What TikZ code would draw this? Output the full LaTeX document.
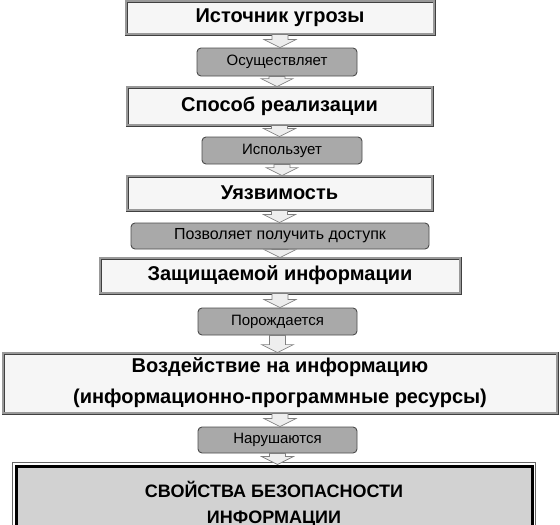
\documentclass[tikz,border=0pt]{standalone}
\usepackage{fontspec}
\setmainfont{Liberation Sans}
\usetikzlibrary{calc}
\definecolor{bigfill}{HTML}{F6F6F6}
\definecolor{smallfill}{HTML}{A9A9A9}
\definecolor{lastfill}{HTML}{D2D2D2}
\definecolor{arrfill}{HTML}{EEEEEE}
\tikzset{
  bigbox/.style={draw=black!75, double=black!40, double distance=1.4pt, line width=0.8pt,
    fill=bigfill, inner sep=0pt, align=center, font=\fontsize{20}{31}\selectfont\bfseries},
  smallbox/.style={draw=black!70, line width=0.9pt, rounded corners=4pt, fill=smallfill,
    inner sep=0pt, font=\fontsize{15}{16}\selectfont},
  lastbox/.style={draw=black, line width=3pt, fill=lastfill, inner sep=0pt, align=center,
    font=\fontsize{18}{26}\selectfont\bfseries},
  blk/.style={draw=black!50, line width=0.7pt, fill=arrfill, to path={
    let \p1=(\tikztostart), \p2=(\tikztotarget) in
    (\x1-8pt,\y1) -- (\x1+8pt,\y1) -- (\x1+8pt,\y2+8pt) -- (\x1+16pt,\y2+8pt)
    -- (\x1,\y2) -- (\x1-16pt,\y2+8pt) -- (\x1-8pt,\y2+8pt) -- cycle}}
}
\begin{document}
\begin{tikzpicture}[x=1pt,y=-1pt]
\useasboundingbox (0,0) rectangle (560,525);
\clip (0,0) rectangle (560,525);
\node[bigbox, minimum width=308pt, minimum height=33pt] (b1) at (280,17.5) {Источник угрозы};
\node[smallbox, minimum width=160pt, minimum height=28pt] (s1) at (277,62) {Осуществляет};
\node[bigbox, minimum width=305pt, minimum height=38pt] (b2) at (279.5,106) {Способ реализации};
\node[smallbox, minimum width=160pt, minimum height=27pt] (s2) at (282,150.5) {Использует};
\node[bigbox, minimum width=305pt, minimum height=34pt] (b3) at (279.5,193) {Уязвимость};
\node[smallbox, minimum width=298pt, minimum height=26pt, font=\fontsize{16}{16}\selectfont] (s3) at (280,236) {Позволяет получить доступк};
\node[bigbox, minimum width=360pt, minimum height=35pt] (b4) at (280,275.5) {Защищаемой информации};
\node[smallbox, minimum width=159pt, minimum height=27pt] (s4) at (277.5,321.5) {Порождается};
\node[bigbox, minimum width=554pt, minimum height=60pt] (b5) at (280,383) {Воздействие на информацию\\(информационно-программные ресурсы)};
\node[smallbox, minimum width=159pt, minimum height=26pt] (s5) at (277.5,440) {Нарушаются};
\node[lastbox, minimum width=516pt, minimum height=76pt] (b6) at (274,504) {СВОЙСТВА БЕЗОПАСНОСТИ\\ИНФОРМАЦИИ};
\draw[black!60, line width=0.6pt] ($(b6.north west)+(-2pt,2pt)$) rectangle ($(b6.south east)+(2pt,-2pt)$);
\draw[blk] (b1.south) to (s1.north);
\draw[blk] (s1.south) to (b2.north);
\draw[blk] (b2.south) to (s2.north);
\draw[blk] (s2.south) to (b3.north);
\draw[blk] (b3.south) to (s3.north);
\draw[blk] (s3.south) to (b4.north);
\draw[blk] (b4.south) to (s4.north);
\draw[blk] (s4.south) to (b5.north);
\draw[blk] (b5.south) to (s5.north);
\draw[blk] (s5.south) to (b6.north);
\end{tikzpicture}
\end{document}
